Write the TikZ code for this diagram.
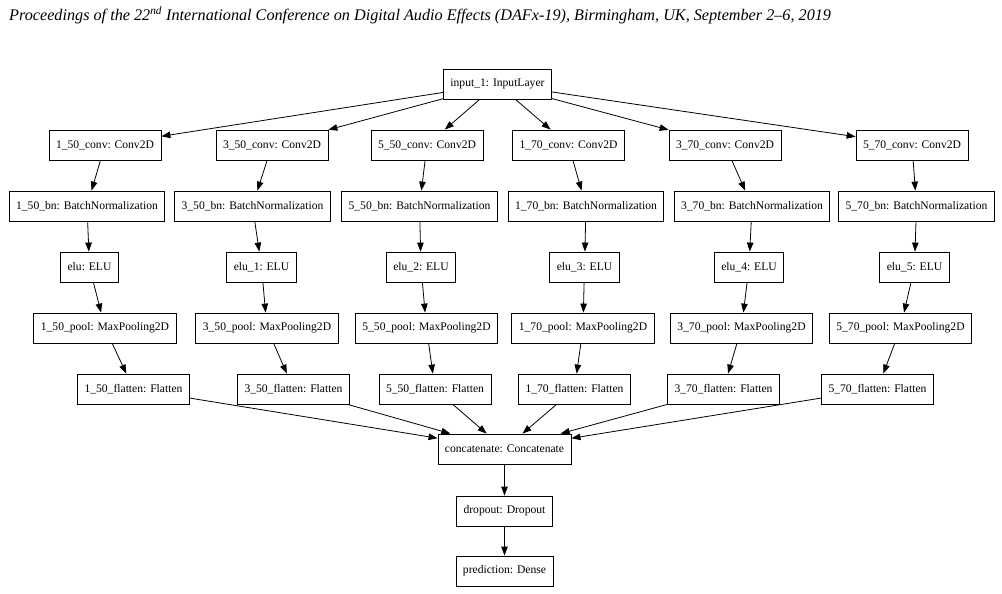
\documentclass[tikz,border=0pt]{standalone}
\usepackage{fontspec}
\setmainfont{Liberation Serif}
\usetikzlibrary{positioning, arrows.meta}

\begin{document}
\begin{tikzpicture}[x=1pt, y=-1pt, >={Triangle[length=9pt, width=6.5pt]},
  layer/.style={rectangle, draw, line width=0.8pt, minimum height=30pt, inner xsep=7pt, font=\fontsize{11.6}{14}\selectfont},
  edge/.style={->, line width=0.8pt}]
\useasboundingbox (0,0) rectangle (1002,594);

% Header line
\node[anchor=base west, inner sep=0pt, font=\fontsize{16.2}{19}\selectfont\itshape] (header) at (9,21)
  {Proceedings of the 22\textsuperscript{nd} International Conference on Digital Audio Effects (DAFx-19), Birmingham, UK, September 2--6, 2019};

% Define nodes
\node[layer] (input) at (497.5,84) {input\_1: InputLayer};

\node[layer] (c150) at (105,145) {1\_50\_conv: Conv2D};
\node[layer] (c350) at (272,145) {3\_50\_conv: Conv2D};
\node[layer] (c550) at (427,145) {5\_50\_conv: Conv2D};
\node[layer] (c170) at (568.5,145) {1\_70\_conv: Conv2D};
\node[layer] (c370) at (725,145) {3\_70\_conv: Conv2D};
\node[layer] (c570) at (912,145) {5\_70\_conv: Conv2D};

\node[layer] (b150) at (87,206) {1\_50\_bn: BatchNormalization};
\node[layer] (b350) at (252.5,206) {3\_50\_bn: BatchNormalization};
\node[layer] (b550) at (419.5,206) {5\_50\_bn: BatchNormalization};
\node[layer] (b170) at (586,206) {1\_70\_bn: BatchNormalization};
\node[layer] (b370) at (752,206) {3\_70\_bn: BatchNormalization};
\node[layer] (b570) at (916.5,206) {5\_70\_bn: BatchNormalization};

\node[layer] (e0) at (89.5,267) {elu: ELU};
\node[layer] (e1) at (261.5,267) {elu\_1: ELU};
\node[layer] (e2) at (421,267) {elu\_2: ELU};
\node[layer] (e3) at (584.5,267) {elu\_3: ELU};
\node[layer] (e4) at (749,267) {elu\_4: ELU};
\node[layer] (e5) at (914.5,267) {elu\_5: ELU};

\node[layer] (p150) at (105,328) {1\_50\_pool: MaxPooling2D};
\node[layer] (p350) at (267,328) {3\_50\_pool: MaxPooling2D};
\node[layer] (p550) at (426.5,328) {5\_50\_pool: MaxPooling2D};
\node[layer] (p170) at (583,328) {1\_70\_pool: MaxPooling2D};
\node[layer] (p370) at (741.5,328) {3\_70\_pool: MaxPooling2D};
\node[layer] (p570) at (900.5,328) {5\_70\_pool: MaxPooling2D};

\node[layer] (f150) at (133.5,389) {1\_50\_flatten: Flatten};
\node[layer] (f350) at (293.5,389) {3\_50\_flatten: Flatten};
\node[layer] (f550) at (435,389) {5\_50\_flatten: Flatten};
\node[layer] (f170) at (574.5,389) {1\_70\_flatten: Flatten};
\node[layer] (f370) at (723.5,389) {3\_70\_flatten: Flatten};
\node[layer] (f570) at (877.5,389) {5\_70\_flatten: Flatten};

\node[layer] (concat) at (504.5,449) {concatenate: Concatenate};
\node[layer] (drop) at (504.5,511) {dropout: Dropout};
\node[layer] (pred) at (504.5,571) {prediction: Dense};

% Draw edges with arrows
\draw[edge] (input) -- (c150);
\draw[edge] (input) -- (c350);
\draw[edge] (input) -- (c550);
\draw[edge] (input) -- (c170);
\draw[edge] (input) -- (c370);
\draw[edge] (input) -- (c570);

\draw[edge] (c150) -- (b150);
\draw[edge] (c350) -- (b350);
\draw[edge] (c550) -- (b550);
\draw[edge] (c170) -- (b170);
\draw[edge] (c370) -- (b370);
\draw[edge] (c570) -- (b570);

\draw[edge] (b150) -- (e0);
\draw[edge] (b350) -- (e1);
\draw[edge] (b550) -- (e2);
\draw[edge] (b170) -- (e3);
\draw[edge] (b370) -- (e4);
\draw[edge] (b570) -- (e5);

\draw[edge] (e0) -- (p150);
\draw[edge] (e1) -- (p350);
\draw[edge] (e2) -- (p550);
\draw[edge] (e3) -- (p170);
\draw[edge] (e4) -- (p370);
\draw[edge] (e5) -- (p570);

\draw[edge] (p150) -- (f150);
\draw[edge] (p350) -- (f350);
\draw[edge] (p550) -- (f550);
\draw[edge] (p170) -- (f170);
\draw[edge] (p370) -- (f370);
\draw[edge] (p570) -- (f570);

\draw[edge] (f150) -- (concat);
\draw[edge] (f350) -- (concat);
\draw[edge] (f550) -- (concat);
\draw[edge] (f170) -- (concat);
\draw[edge] (f370) -- (concat);
\draw[edge] (f570) -- (concat);

\draw[edge] (concat) -- (drop);
\draw[edge] (drop) -- (pred);

\end{tikzpicture}
\end{document}
